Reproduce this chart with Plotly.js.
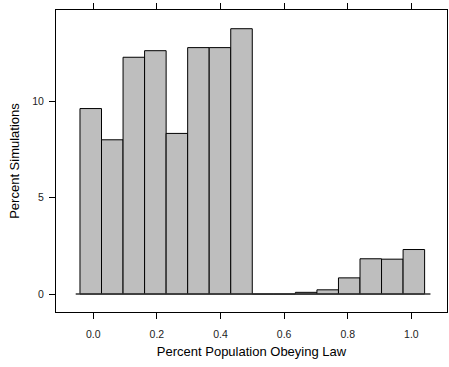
<!DOCTYPE html>
<html>
<head>
<meta charset="utf-8">
<script src="https://cdn.plot.ly/plotly-3.0.1.min.js"></script>
<style>html,body{margin:0;padding:0;background:#fff;}#chart{width:449px;height:367px;}</style>
</head>
<body>
<div id="chart"></div>
<script>
// Bin centres (fraction of population obeying law) and percent of simulations
var binCenters = [-0.0078, 0.0599, 0.1276, 0.1953, 0.2630, 0.3307, 0.3984, 0.4661,
                  0.5339, 0.6016, 0.6693, 0.7370, 0.8047, 0.8724, 0.9401, 1.0078];
var percentSims = [9.62, 8.0, 12.28, 12.62, 8.33, 12.78, 12.78, 13.76,
                   0.0, 0.0, 0.09, 0.22, 0.84, 1.83, 1.81, 2.31];
var binWidth = 0.0677;
var xTicks = [0, 0.2, 0.4, 0.6, 0.8, 1.0];
var xTickLabels = ["0.0", "0.2", "0.4", "0.6", "0.8", "1.0"];
var yTicks = [0, 5, 10];
var yTickLabels = ["0", "5", "10"];

var trace = {
  type: 'bar',
  x: binCenters,
  y: percentSims,
  width: binWidth,
  marker: {color: '#bebebe', line: {color: '#000000', width: 1}},
  hoverinfo: 'x+y'
};

var font = {family: 'Liberation Sans, Arial, sans-serif', color: '#000'};

var layout = {
  width: 449, height: 367,
  margin: {l: 56, r: 2, t: 10, b: 55, pad: 0},
  paper_bgcolor: '#fff', plot_bgcolor: '#fff',
  showlegend: false,
  bargap: 0,
  font: font,
  xaxis: {
    range: [-0.117, 1.112],
    tickvals: xTicks, ticktext: xTickLabels,
    ticks: 'outside', ticklen: 6, tickwidth: 1, tickcolor: '#000',
    ticklabelstandoff: 6,
    showline: true, linecolor: '#000', linewidth: 1, mirror: 'allticks',
    showgrid: false, zeroline: false,
    tickfont: {family: font.family, size: 10.5, color: '#222'},
    title: {text: 'Percent Population Obeying Law', font: {family: font.family, size: 13, color: '#000'}, standoff: 8}
  },
  yaxis: {
    range: [-0.93, 14.73],
    tickvals: yTicks, ticktext: yTickLabels,
    ticks: 'outside', ticklen: 6, tickwidth: 1, tickcolor: '#000',
    ticklabelstandoff: 3,
    showline: true, linecolor: '#000', linewidth: 1, mirror: true,
    showgrid: false, zeroline: false,
    tickfont: {family: font.family, size: 10.5, color: '#222'},
    title: {text: 'Percent Simulations', font: {family: font.family, size: 13, color: '#000'}, standoff: 9}
  },
  shapes: [{
    type: 'line', xref: 'x', yref: 'y',
    x0: -0.055, x1: 1.06, y0: 0, y1: 0,
    line: {color: '#333', width: 1.5}, layer: 'above'
  }]
};

Plotly.newPlot('chart', [trace], layout, {staticPlot: true, displayModeBar: false});
</script>
</body>
</html>
